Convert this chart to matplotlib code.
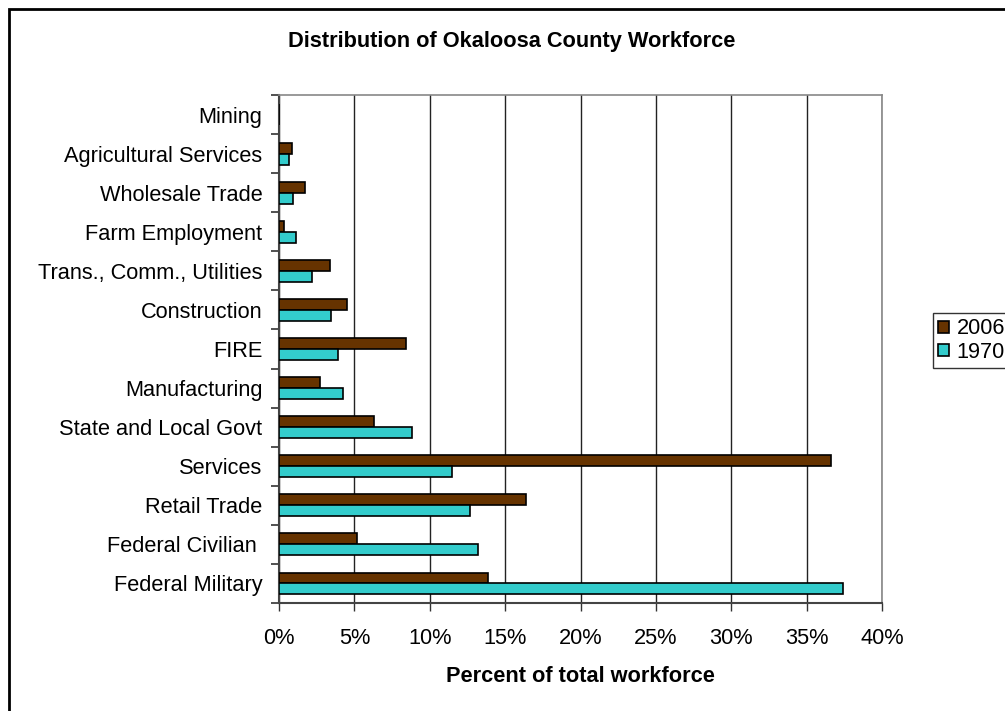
import numpy as np
import matplotlib.pyplot as plt
from matplotlib.patches import Rectangle

# Categories listed bottom to top
categories = ["Federal Military", "Federal Civilian ", "Retail Trade", "Services",
              "State and Local Govt", "Manufacturing", "FIRE", "Construction",
              "Trans., Comm., Utilities", "Farm Employment", "Wholesale Trade",
              "Agricultural Services", "Mining"]
share_2006 = [13.85, 5.15, 16.4, 36.6, 6.3, 2.7, 8.4, 4.5, 3.35, 0.35, 1.75, 0.85, 0.0]
share_1970 = [37.4, 13.2, 12.7, 11.5, 8.8, 4.25, 3.9, 3.45, 2.2, 1.1, 0.9, 0.65, 0.0]
xticks = [0, 5, 10, 15, 20, 25, 30, 35, 40]

plt.rcParams['font.family'] = ['Liberation Sans', 'DejaVu Sans']
fs = 15.7

fig = plt.figure(figsize=(10.05, 7.11), dpi=100)
ax = fig.add_axes([279 / 1005, 1 - 603 / 711, 603 / 1005, 508 / 711])

# outer chart frame (runs off the right and bottom edges)
fig.patches.append(Rectangle((9 / 1005, -0.1), 1.2, 1 - 9 / 711 + 0.1,
                             transform=fig.transFigure, fill=False,
                             edgecolor='black', linewidth=2))

y = np.arange(len(categories))
h = 0.28
ax.barh(y + h / 2, share_2006, height=h, color='#663300', edgecolor='black',
        linewidth=1.2, label='2006', zorder=3)
ax.barh(y - h / 2, share_1970, height=h, color='#33CCCC', edgecolor='black',
        linewidth=1.2, label='1970', zorder=3)

ax.set_xlim(0, 40)
ax.set_ylim(-0.5, len(categories) - 0.5)
ax.set_xticks(xticks)
ax.set_xticklabels([f"{t}%" for t in xticks], fontsize=fs)
ax.set_yticks(y)
ax.set_yticklabels(categories, fontsize=fs)
ax.set_yticks(np.arange(-0.5, len(categories), 1), minor=True)
ax.tick_params(axis='y', which='major', length=0, pad=12)
ax.tick_params(axis='y', which='minor', length=6, width=1.2, color='#333333')
ax.tick_params(axis='x', length=6, width=1, color='#333333', pad=12)
ax.grid(axis='x', color='#222222', linewidth=1, zorder=0)

for side in ['top', 'right']:
    ax.spines[side].set_color('#888888')
    ax.spines[side].set_linewidth(1.2)
for side in ['left', 'bottom']:
    ax.spines[side].set_color('#444444')
    ax.spines[side].set_linewidth(1.5)

fig.text(580 / 1005, 1 - 676 / 711, 'Percent of total workforce',
         ha='center', va='center', fontsize=fs, fontweight='bold')
fig.text(512 / 1005, 1 - 42 / 711, 'Distribution of Okaloosa County Workforce',
         ha='center', va='center', fontsize=fs, fontweight='bold')

fig.legend(loc='upper left', bbox_to_anchor=(933 / 1005, 1 - 313 / 711),
           fontsize=fs, frameon=True, fancybox=False, edgecolor='black',
           handlelength=0.47, handleheight=0.47, handletextpad=0.37,
           borderpad=0.25, labelspacing=0.1, borderaxespad=0)

fig.savefig('out.png', dpi=100)
